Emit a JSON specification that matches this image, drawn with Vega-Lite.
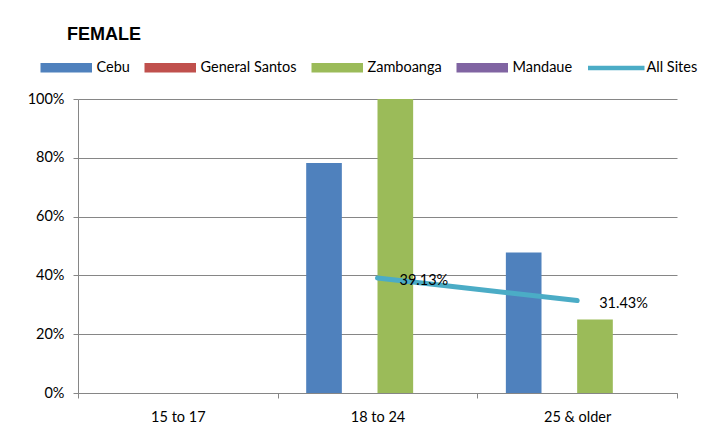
{
  "$schema": "https://vega.github.io/schema/vega-lite/v6.json",
  "width": 599,
  "height": 294,
  "autosize": {"type": "none"},
  "padding": {"left": 78, "top": 99, "right": 38, "bottom": 44},
  "background": "white",
  "config": {"font": "Lato", "view": {"stroke": null}},
  "title": {"text": "FEMALE", "anchor": "start", "frame": "group", "dx": -11, "offset": 16, "font": "Liberation Sans", "fontSize": 18, "fontWeight": "bold", "color": "#000"},
  "data": {"values": [
    {"age": "18 to 24", "site": "Cebu", "value": 0.7826},
    {"age": "18 to 24", "site": "Zamboanga", "value": 1.0},
    {"age": "25 & older", "site": "Cebu", "value": 0.478},
    {"age": "25 & older", "site": "Zamboanga", "value": 0.25},
    {"age": "18 to 24", "site": "All Sites", "value": 0.3913},
    {"age": "25 & older", "site": "All Sites", "value": 0.3143}
  ]},
  "encoding": {
    "x": {"field": "age", "type": "nominal", "sort": null,
      "scale": {"domain": ["15 to 17", "18 to 24", "25 & older"], "paddingInner": 0, "paddingOuter": 0},
      "axis": {"title": null, "labelAngle": 0, "tickBand": "extent", "domainColor": "#868686", "tickColor": "#868686", "tickSize": 5, "labelPadding": 12, "labelFont": "Lato", "labelFontSize": 14.5, "labelColor": "#000", "grid": false}},
    "y": {"field": "value", "type": "quantitative",
      "scale": {"domain": [0, 1], "nice": false},
      "axis": {"title": null, "values": [0, 0.2, 0.4, 0.6, 0.8, 1], "format": ".0%", "grid": true, "gridColor": "#868686", "domainColor": "#868686", "tickColor": "#868686", "tickSize": 5, "labelPadding": 9, "labelFont": "Lato", "labelFontSize": 14.5, "labelColor": "#000"}}
  },
  "layer": [
    {
      "transform": [{"filter": "datum.site !== 'All Sites'"}],
      "mark": {"type": "bar"},
      "encoding": {
        "xOffset": {"field": "site", "type": "nominal", "scale": {"domain": ["Cebu", "General Santos", "Zamboanga", "Mandaue"], "paddingInner": 0, "paddingOuter": 0.8}},
        "color": {"field": "site", "type": "nominal",
          "scale": {"domain": ["Cebu", "General Santos", "Zamboanga", "Mandaue", "All Sites"], "range": ["#4F81BD", "#C0504D", "#9BBB59", "#8064A2", "#4BACC6"]},
          "legend": {"orient": "none", "legendX": -19, "legendY": -39, "direction": "horizontal", "title": null, "symbolType": "M-5,-0.8H5V0.8H-5Z", "symbolSize": 100, "labelOffset": 23, "columnPadding": 12, "labelFont": "Lato", "labelFontSize": 14.5, "labelColor": "#000", "padding": 0,
            "encode": {"symbols": {"update": {"shape": {"signal": "datum.value === 'All Sites' ? 'M-5.5,-0.3H5.5V0.3H-5.5Z' : 'M-5,-0.8H5V0.8H-5Z'"}, "fill": {"scale": "color", "field": "value"}, "stroke": {"value": "transparent"}, "opacity": {"value": 1}}}}}}
      }
    },
    {
      "transform": [{"filter": "datum.site === 'All Sites'"}],
      "mark": {"type": "line", "strokeWidth": 5, "strokeCap": "round"},
      "encoding": {
        "color": {"field": "site", "type": "nominal",
          "scale": {"domain": ["Cebu", "General Santos", "Zamboanga", "Mandaue", "All Sites"], "range": ["#4F81BD", "#C0504D", "#9BBB59", "#8064A2", "#4BACC6"]},
          "legend": {"orient": "none", "legendX": -19, "legendY": -39, "direction": "horizontal", "title": null, "symbolType": "M-5,-0.8H5V0.8H-5Z", "symbolSize": 100, "labelOffset": 23, "columnPadding": 12, "labelFont": "Lato", "labelFontSize": 14.5, "labelColor": "#000", "padding": 0,
            "encode": {"symbols": {"update": {"shape": {"signal": "datum.value === 'All Sites' ? 'M-5.5,-0.3H5.5V0.3H-5.5Z' : 'M-5,-0.8H5V0.8H-5Z'"}, "fill": {"scale": "color", "field": "value"}, "stroke": {"value": "transparent"}, "opacity": {"value": 1}}}}}}
      }
    },
    {
      "transform": [{"filter": "datum.site === 'All Sites'"}],
      "mark": {"type": "text", "align": "left", "baseline": "middle", "dx": 22, "dy": 3, "font": "Lato", "fontSize": 14.5, "color": "#000"},
      "encoding": {"text": {"field": "value", "type": "quantitative", "format": ".2%"}}
    }
  ]
}
